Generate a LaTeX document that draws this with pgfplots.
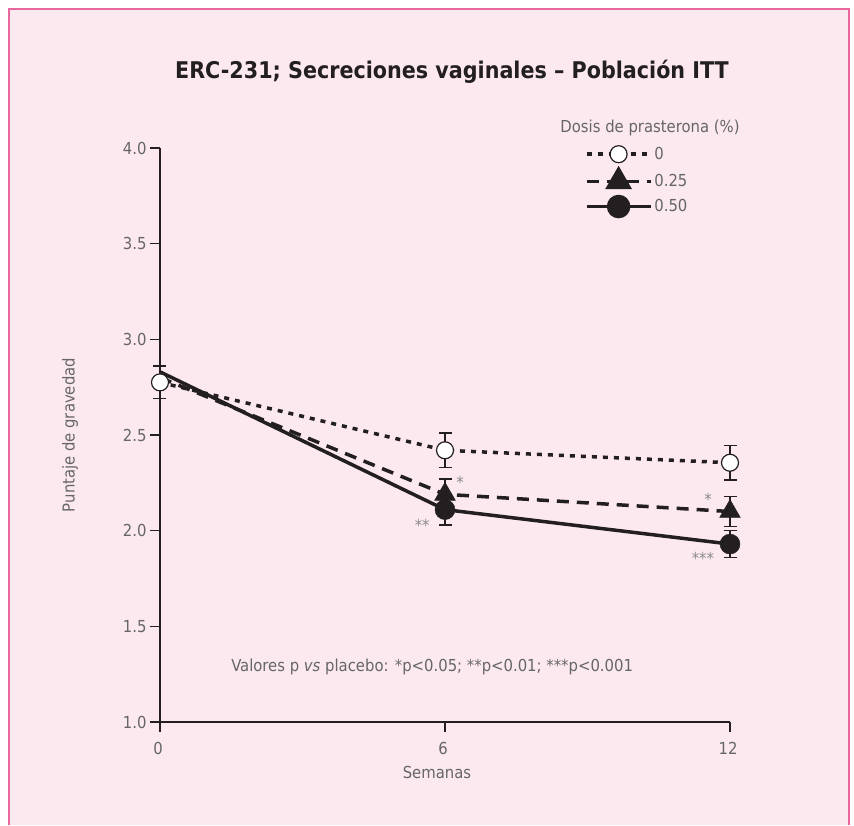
\documentclass[border=0pt]{standalone}
\usepackage{fontspec}
\setmainfont{DejaVu Sans Condensed}
\usepackage{pgfplots}
\pgfplotsset{compat=1.18}
\definecolor{bgpink}{HTML}{FCE9F0}
\definecolor{bordercol}{HTML}{E8679E}
\definecolor{txt}{HTML}{666666}
\definecolor{ink}{HTML}{231F20}
\definecolor{star}{HTML}{8A8A8A}
\newcommand{\fs}{\fontsize{16.5}{19}\selectfont}
\begin{document}
\begin{tikzpicture}
\useasboundingbox (-160pt,-103pt) rectangle (694pt,722pt);
\fill[white] (-160pt,-103pt) rectangle (694pt,722pt);
\fill[bgpink] (-151pt,-103pt) rectangle (689pt,713pt);
\draw[bordercol, line width=1.5pt] (-151pt,-103pt) -- (-151pt,713pt) -- (689pt,713pt) -- (689pt,-103pt);
\begin{axis}[
  at={(0pt,0pt)}, anchor=south west,
  scale only axis, width=570pt, height=574pt,
  xmin=0, xmax=12, ymin=1, ymax=4,
  axis lines*=left,
  axis line style={line width=1.5pt, ink},
  xtick={0,6,12}, ytick={1,1.5,2,2.5,3,3.5,4},
  tick align=outside, major tick length=10pt,
  tick style={line width=1.3pt, ink},
  yticklabel style={/pgf/number format/.cd, fixed, fixed zerofill, precision=1},
  xticklabel style={yshift=-7pt, xshift=-2pt},
  /pgf/number format/assume math mode=true,
  ticklabel style={font=\fs, text=txt},
  clip=false,
  legend style={draw=none, fill=none, at={(axis description cs:0.745,1.005)}, anchor=north west,
    font=\fs, text=txt, row sep=6.3pt, inner sep=0pt,
    /tikz/every even column/.append style={column sep=2pt}},
  legend cell align=left,
  legend image code/.code={\draw[mark repeat=2,mark phase=2,#1] plot coordinates {(0pt,0pt) (32pt,0pt) (64pt,0pt)};},
  error bars/error bar style={line width=1.3pt, ink, solid},
  error bars/error mark options={rotate=90, mark size=6.5pt, line width=1.3pt, ink, solid},
]
% lines
\addplot[ink, line width=3.5pt, forget plot] coordinates {(0,2.83) (6,2.11) (12,1.93)};
\addplot[ink, line width=3.5pt, dash pattern=on 12pt off 8pt, forget plot] coordinates {(0,2.80) (6,2.19) (12,2.10)};
\addplot[ink, line width=3.5pt, dash pattern=on 5pt off 6pt, forget plot] coordinates {(0,2.775) (6,2.42) (12,2.355)};
% marks
\addplot[only marks, ink, mark=*, mark size=10pt, mark options={fill=ink, solid}, forget plot,
  error bars/.cd, y dir=both, y explicit] coordinates {(6,2.11) +- (0,0.08) (12,1.93) +- (0,0.07)};
\addplot[only marks, ink, mark=triangle*, mark size=12pt, mark options={fill=ink, solid}, forget plot,
  error bars/.cd, y dir=both, y explicit] coordinates {(6,2.19) +- (0,0.08) (12,2.10) +- (0,0.08)};
\addplot[only marks, ink, mark=*, mark size=8.5pt, mark options={fill=white, draw=ink, line width=1.2pt, solid}, forget plot,
  error bars/.cd, y dir=both, y explicit] coordinates {(0,2.775) +- (0,0.085) (6,2.42) +- (0,0.09) (12,2.355) +- (0,0.09)};
% legend
\addlegendimage{ink, line width=3.5pt, dash pattern=on 5pt off 6pt, mark=*, mark size=8.5pt, mark options={fill=white, draw=ink, line width=1.2pt, solid}}
\addlegendentry{0}
\addlegendimage{ink, line width=3.5pt, dash pattern=on 12pt off 8pt, mark=triangle*, mark size=12pt, mark options={fill=ink, solid}}
\addlegendentry{0.25}
\addlegendimage{ink, line width=3.5pt, mark=*, mark size=10pt, mark options={fill=ink, solid}}
\addlegendentry{0.50}
% stars
\node[text=star, font=\fs] at (axis cs:6.32,2.25) {*};
\node[text=star, font=\fs] at (axis cs:5.52,2.03) {**};
\node[text=star, font=\fs] at (axis cs:11.54,2.162) {*};
\node[text=star, font=\fs] at (axis cs:11.43,1.854) {***};
\node[text=txt, font=\fs] at (axis cs:5.73,1.287) {Valores p \textit{vs} placebo: *p<0.05; **p<0.01; ***p<0.001};
\end{axis}
\node[font=\bfseries\fontsize{23}{27}\selectfont, text=ink] at (292pt,650pt) {ERC-231; Secreciones vaginales – Población ITT};
\node[text=txt, font=\fs] at (490pt,594pt) {Dosis de prasterona (\%)};
\node[text=txt, font=\fs, rotate=90] at (-90pt,287pt) {Puntaje de gravedad};
\node[text=txt, font=\fs] at (277pt,-50pt) {Semanas};
\end{tikzpicture}
\end{document}
